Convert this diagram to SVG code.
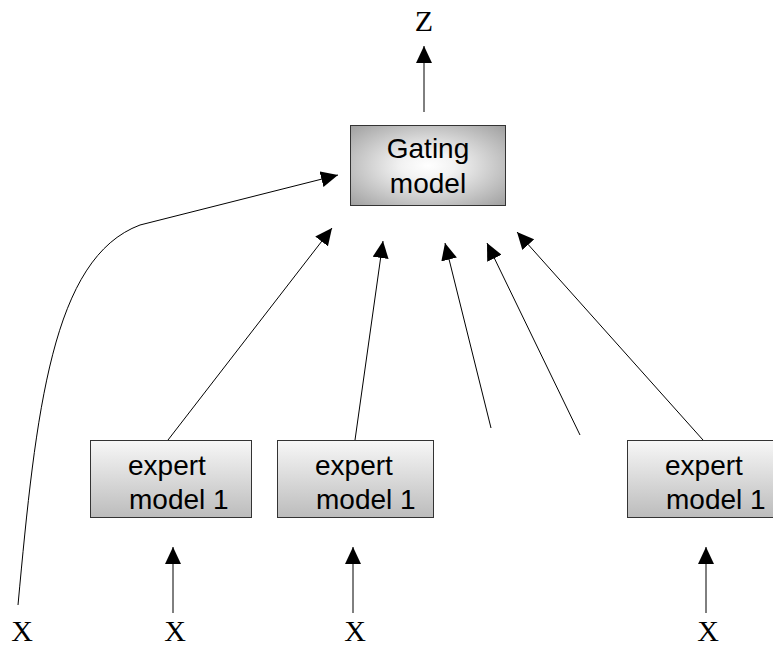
<svg xmlns="http://www.w3.org/2000/svg" width="773" height="648" viewBox="0 0 773 648">
  <style>
    .box { stroke: #333333; stroke-width: 1; }
    .lbl { font-family: "Liberation Sans", Arial, sans-serif; font-size: 28px; fill: #000000; }
    .var { font-family: "Liberation Serif", "Times New Roman", serif; font-size: 30px; fill: #000000; text-anchor: middle; }
    .edge { fill: none; stroke: #000000; stroke-width: 1; marker-end: url(#head); }
  </style>
  <defs>
    <radialGradient id="gateFill" cx="50%" cy="50%" r="70%">
      <stop offset="0" stop-color="#ffffff"/>
      <stop offset="0.25" stop-color="#f2f2f2"/>
      <stop offset="1" stop-color="#a0a0a0"/>
    </radialGradient>
    <linearGradient id="expertFill" x1="0" y1="0" x2="0" y2="1">
      <stop offset="0" stop-color="#f7f7f7"/>
      <stop offset="1" stop-color="#bcbcbc"/>
    </linearGradient>
    <marker id="head" markerWidth="17" markerHeight="16" refX="17" refY="8" orient="auto" markerUnits="userSpaceOnUse">
      <path d="M0,0 L17,8 L0,16 Z" fill="#000000"/>
    </marker>
  </defs>

  <!-- connectors -->
  <g id="connectors">
    <line class="edge" x1="424" y1="112" x2="424" y2="46"/>
    <path class="edge" d="M18,605 C36,410 52,258 140,225 L338,175"/>
    <line class="edge" x1="168" y1="440" x2="332" y2="228"/>
    <line class="edge" x1="355" y1="440" x2="383" y2="241"/>
    <line class="edge" x1="491" y1="428" x2="445" y2="243"/>
    <line class="edge" x1="580" y1="435" x2="487" y2="243"/>
    <line class="edge" x1="703" y1="440" x2="517" y2="232"/>
    <line class="edge" x1="173" y1="613" x2="173" y2="547"/>
    <line class="edge" x1="353" y1="613" x2="353" y2="547"/>
    <line class="edge" x1="706" y1="613" x2="706" y2="547"/>
  </g>

  <!-- gating network -->
  <g id="gating">
    <rect class="box" x="350.5" y="125.5" width="155" height="80" fill="url(#gateFill)"/>
    <text class="lbl" x="428" y="158" text-anchor="middle">Gating</text>
    <text class="lbl" x="428" y="193" text-anchor="middle">model</text>
  </g>

  <!-- experts -->
  <g id="expert1">
    <rect class="box" x="90.5" y="440.5" width="161" height="77" fill="url(#expertFill)"/>
    <text class="lbl" x="128" y="475">expert</text>
    <text class="lbl" x="129" y="509">model 1</text>
  </g>
  <g id="expert2">
    <rect class="box" x="277.5" y="440.5" width="156" height="77" fill="url(#expertFill)"/>
    <text class="lbl" x="315" y="475">expert</text>
    <text class="lbl" x="316" y="509">model 1</text>
  </g>
  <g id="expert3">
    <rect class="box" x="627.5" y="440.5" width="160" height="77" fill="url(#expertFill)"/>
    <text class="lbl" x="665" y="475">expert</text>
    <text class="lbl" x="666" y="509">model 1</text>
  </g>

  <!-- inputs and output -->
  <g id="output-z">
    <text class="var" x="424" y="31">Z</text>
  </g>
  <g id="input-x1">
    <text class="var" x="22" y="641">X</text>
  </g>
  <g id="input-x2">
    <text class="var" x="175" y="641">X</text>
  </g>
  <g id="input-x3">
    <text class="var" x="355" y="641">X</text>
  </g>
  <g id="input-x4">
    <text class="var" x="708" y="641">X</text>
  </g>
</svg>
